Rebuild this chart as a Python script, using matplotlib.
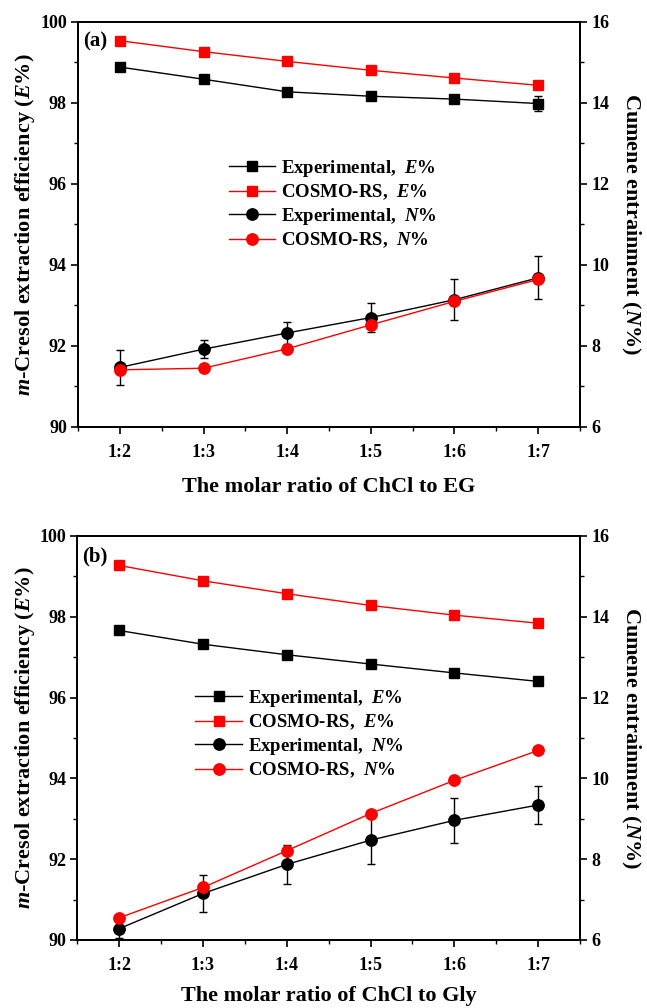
import numpy as np
import matplotlib
matplotlib.use("Agg")
import matplotlib.pyplot as plt
from matplotlib.ticker import MultipleLocator

# =====================
# Data
# =====================
ratios = ["1:2", "1:3", "1:4", "1:5", "1:6", "1:7"]
x = np.arange(2, 8)

# (a) ChCl : EG
a_exp_E = [98.88, 98.58, 98.27, 98.16, 98.09, 97.98]
a_exp_E_err = [0.0, 0.0, 0.0, 0.0, 0.0, 0.18]
a_cos_E = [99.53, 99.26, 99.02, 98.80, 98.61, 98.43]
a_exp_N = [7.47, 7.92, 8.32, 8.70, 9.14, 9.68]
a_exp_N_err = [0.43, 0.22, 0.27, 0.36, 0.51, 0.53]
a_cos_N = [7.41, 7.45, 7.93, 8.52, 9.10, 9.64]

# (b) ChCl : Gly
b_exp_E = [97.66, 97.32, 97.06, 96.83, 96.61, 96.40]
b_exp_E_err = [0.0, 0.0, 0.0, 0.0, 0.0, 0.0]
b_cos_E = [99.27, 98.89, 98.57, 98.28, 98.04, 97.84]
b_exp_N = [6.28, 7.15, 7.87, 8.47, 8.96, 9.34]
b_exp_N_err = [0.22, 0.45, 0.48, 0.60, 0.55, 0.46]
b_cos_N = [6.55, 7.30, 8.21, 9.13, 9.95, 10.69]

plt.rcParams['font.family'] = ['Liberation Serif']
plt.rcParams['font.weight'] = 'bold'
plt.rcParams['axes.labelweight'] = 'bold'
plt.rcParams['mathtext.fontset'] = 'custom'
plt.rcParams['mathtext.it'] = 'Liberation Serif:italic:bold'
plt.rcParams['mathtext.rm'] = 'Liberation Serif:bold'
plt.rcParams['mathtext.bf'] = 'Liberation Serif:bold'

fig = plt.figure(figsize=(6.47, 10.08), dpi=100)


def panel(rect, tag, xlabel, exp_E, exp_E_err, cos_E, exp_N, exp_N_err, cos_N, leg_anchor, xlpad):
    ax = fig.add_axes(rect)
    ax2 = ax.twinx()

    ms = 7.8
    l1, = ax.plot(x, exp_E, color='black', marker='s', ms=ms, lw=1.0, zorder=3)
    ax.errorbar(x, exp_E, yerr=exp_E_err, fmt='none', ecolor='black', elinewidth=1.0, capsize=3, capthick=1.0, zorder=2)
    l2, = ax.plot(x, cos_E, color='#ff0000', marker='s', ms=ms, lw=1.0, zorder=3)

    ax2.errorbar(x, exp_N, yerr=exp_N_err, fmt='none', ecolor='black', elinewidth=1.0, capsize=3, capthick=1.0, zorder=2)
    l3, = ax2.plot(x, exp_N, color='black', marker='o', ms=8.2, lw=1.0, zorder=3)
    l4, = ax2.plot(x, cos_N, color='#ff0000', marker='o', ms=8.2, lw=1.0, zorder=4)

    ax.set_xlim(1.5, 7.5)
    ax.set_ylim(90, 100)
    ax2.set_ylim(6, 16)
    ax.set_xticks(x)
    ax.set_xticklabels(ratios)
    ax.xaxis.set_minor_locator(MultipleLocator(0.5))
    ax.yaxis.set_major_locator(MultipleLocator(2))
    ax.yaxis.set_minor_locator(MultipleLocator(1))
    ax2.yaxis.set_major_locator(MultipleLocator(2))
    ax2.yaxis.set_minor_locator(MultipleLocator(1))

    for a in (ax, ax2):
        a.tick_params(which='major', direction='out', length=5, width=1.2, labelsize=13, pad=3)
        a.tick_params(which='minor', direction='out', length=3, width=1.0)
        for s in a.spines.values():
            s.set_linewidth(1.3)
    ax.tick_params(axis='x', which='minor', top=False)
    ax.tick_params(axis='x', pad=7)

    ax.set_xlabel(xlabel, fontsize=16, labelpad=xlpad)
    ax.set_ylabel(r'$m$-Cresol extraction efficiency ($E$%)', fontsize=16, labelpad=2)
    ax2.set_ylabel(r'Cumene entrainment ($N$%)', fontsize=16, rotation=270, labelpad=24)

    ax.text(0.01, 0.95, tag, transform=ax.transAxes, fontsize=15, fontweight='bold', va='center', ha='left')

    ax2.legend([l1, l2, l3, l4],
               [r'Experimental,  $E$%', r'COSMO-RS,  $E$%', r'Experimental,  $N$%', r'COSMO-RS,  $N$%'],
               loc='upper left', bbox_to_anchor=leg_anchor, frameon=False, fontsize=13.5,
               handlelength=2.5, handletextpad=0.3, labelspacing=0.2, borderpad=0, borderaxespad=0)
    return ax


panel([0.1206, 0.5764, 0.7758, 0.4021], '(a)', 'The molar ratio of ChCl to EG',
      a_exp_E, a_exp_E_err, a_cos_E, a_exp_N, a_exp_N_err, a_cos_N, (0.30, 0.664), 12)
panel([0.1195, 0.0675, 0.7769, 0.4008], '(b)', 'The molar ratio of ChCl to Gly',
      b_exp_E, b_exp_E_err, b_cos_E, b_exp_N, b_exp_N_err, b_cos_N, (0.235, 0.624), 9)

fig.savefig('out.png', dpi=100)
